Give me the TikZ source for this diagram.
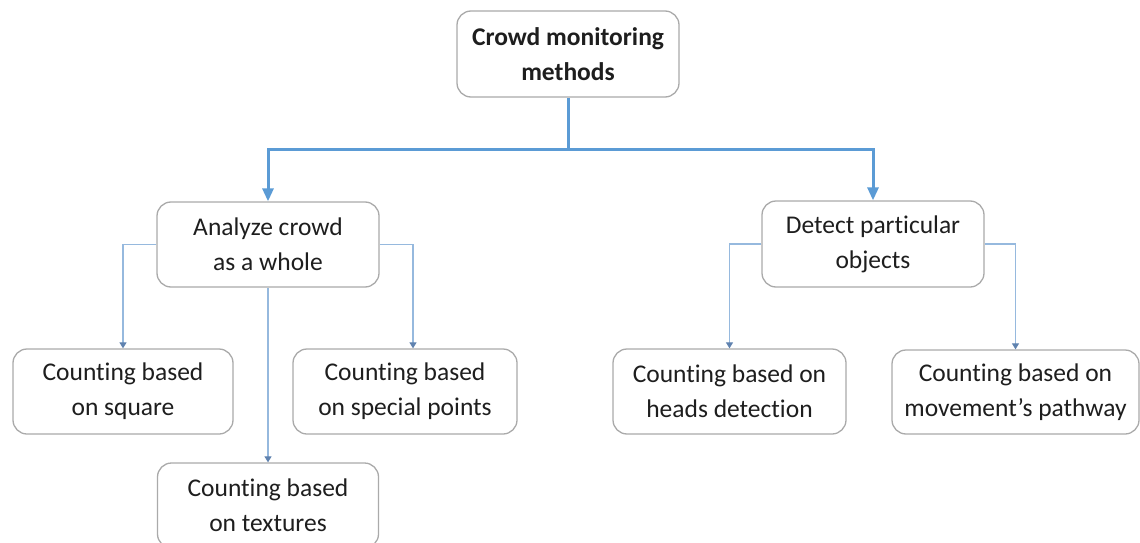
\documentclass[tikz,border=0pt]{standalone}
\usepackage{fontspec}
\setmainfont{Carlito}[Ligatures=NoCommon]
\usetikzlibrary{arrows.meta}
\definecolor{boxline}{RGB}{170,170,170}
\definecolor{mainblue}{RGB}{91,155,213}
\definecolor{subblue}{RGB}{150,185,222}
\definecolor{subtip}{RGB}{95,130,175}
\definecolor{txt}{RGB}{30,30,30}
\newcommand\boxfont{\fontsize{25.5}{35}\selectfont}
\begin{document}
\begin{tikzpicture}[x=1pt,y=-1pt,
  box/.style={draw=boxline, line width=1.3pt, rounded corners=14pt, fill=white,
    align=center, inner sep=0pt, text=txt, font=\boxfont},
  mainlink/.style={draw=mainblue, line width=3pt},
  mainarrow/.style={mainlink, -{Triangle[width=11pt,length=13pt]}},
  subarrow/.style={draw=subblue, line width=1.2pt,
    -{Triangle[width=7pt,length=6pt,color=subtip]}},
]
\useasboundingbox (0,0) rectangle (1140,543);
\clip (0,0) rectangle (1140,543);

% top level
\node[box, font=\boxfont\bfseries, minimum width=222pt, minimum height=86pt]
  (root) at (568,54) {Crowd monitoring\\methods};

% second level
\node[box, minimum width=222pt, minimum height=85pt]
  (analyze) at (268,244.5) {Analyze crowd\\as a whole};
\node[box, minimum width=222pt, minimum height=86pt]
  (detect) at (873,244) {Detect particular\\objects};

% leaves
\node[box, minimum width=220pt, minimum height=85pt]
  (square) at (123,391.5) {Counting based\\on square};
\node[box, minimum width=224pt, minimum height=85pt]
  (special) at (405,391.5) {Counting based\\on special points};
\node[box, minimum width=221pt, minimum height=85pt]
  (textures) at (268,505.5) {Counting based\\on textures};
\node[box, minimum width=233pt, minimum height=85pt]
  (heads) at (729.5,391.5) {Counting based on\\heads detection};
\node[box, minimum width=247pt, minimum height=84pt]
  (movement) at (1015.5,392) {Counting based on\\movement’s pathway};

% main split
\coordinate (hub) at ([yshift=-52pt]root.south);
\draw[mainlink] (root.south) -- (hub);
\draw[mainarrow] (hub) -| (analyze.north);
\draw[mainarrow] (hub) -| (detect.north);

% branches
\draw[subarrow] (analyze.west) -| (square.north);
\draw[subarrow] (analyze.east) -| ([xshift=8pt]special.north);
\draw[subarrow] (analyze.south) -- (textures.north);
\draw[subarrow] (detect.west) -| (heads.north);
\draw[subarrow] (detect.east) -| (movement.north);
\end{tikzpicture}
\end{document}
